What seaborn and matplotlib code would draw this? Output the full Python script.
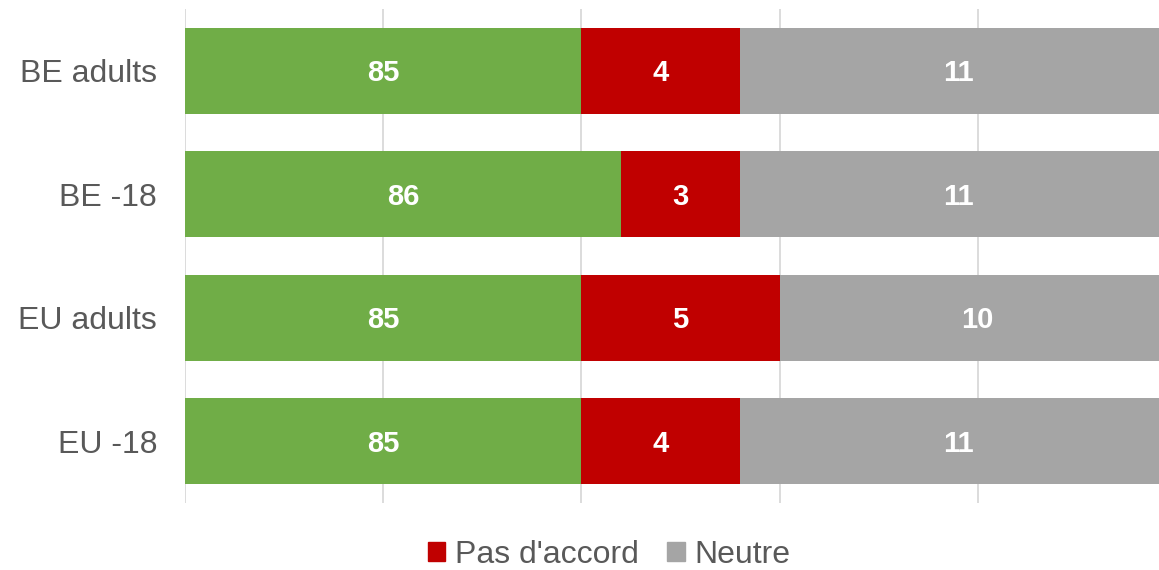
import numpy as np
import pandas as pd
import matplotlib
matplotlib.use("Agg")
import matplotlib.pyplot as plt
from matplotlib.patches import Patch
import seaborn as sns

# ── data ────────────────────────────────────────────
groups = ["BE adults", "BE -18", "EU adults", "EU -18"]
accord = [85, 86, 85, 85]
pas_accord = [4, 3, 5, 4]
neutre = [11, 11, 10, 11]

series_names = ["D'accord", "Pas d'accord", "Neutre"]
colors = ["#70AD47", "#C00000", "#A5A5A5"]
XMIN, XMAX = 75, 100

sns.set_theme(style="white")
plt.rcParams["font.family"] = ["Liberation Sans", "DejaVu Sans"]

fig = plt.figure(figsize=(11.59, 5.70), dpi=100)
W, H = 1159, 570
ax = fig.add_axes([185 / W, (H - 503) / H, (1176 - 185) / W, (503 - 9) / H])

# cumulative ends, drawn back to front so the segments stack
df = pd.DataFrame({"group": groups, "a": accord, "p": pas_accord, "n": neutre})
df["end_a"] = df["a"]
df["end_p"] = df["a"] + df["p"]
df["end_n"] = df["end_p"] + df["n"]

for col, c in zip(["end_n", "end_p", "end_a"], colors[::-1]):
    sns.barplot(data=df, x=col, y="group", orient="h", color=c,
                width=0.7, saturation=1, ax=ax, zorder=2, linewidth=0)

ax.set_xlim(XMIN, XMAX)
ax.set_ylim(3.5, -0.5)
ax.set_xticks(np.arange(XMIN, XMAX + 1, 5))
ax.set_xticklabels([])
ax.grid(axis="x", color="#D9D9D9", linewidth=1.3, zorder=0)
ax.set_axisbelow(True)
for s in ax.spines.values():
    s.set_visible(False)
ax.set_xlabel("")
ax.set_ylabel("")
ax.tick_params(axis="y", length=0, pad=20, labelsize=23, labelcolor="#595959")
ax.tick_params(axis="x", length=0)

# value labels, centred on the visible part of each segment
for i, row in df.iterrows():
    starts = [0, row["end_a"], row["end_p"]]
    ends = [row["end_a"], row["end_p"], row["end_n"]]
    vals = [row["a"], row["p"], row["n"]]
    for s, e, v in zip(starts, ends, vals):
        xc = (max(s, XMIN) + min(e, XMAX)) / 2
        ax.text(xc, i + 0.02, f"{v}", ha="center", va="center", color="white",
                fontsize=21, fontweight="bold", zorder=3)

handles = [Patch(color=colors[1], label=series_names[1]),
           Patch(color=colors[2], label=series_names[2])]
fig.legend(handles=handles, loc="center", bbox_to_anchor=(609 / W, 1 - 555 / H),
           ncol=2, frameon=False, fontsize=23, labelcolor="#595959",
           handlelength=0.55, handleheight=0.55, handletextpad=0.3,
           columnspacing=0.9)

fig.savefig("out.png", dpi=100)
